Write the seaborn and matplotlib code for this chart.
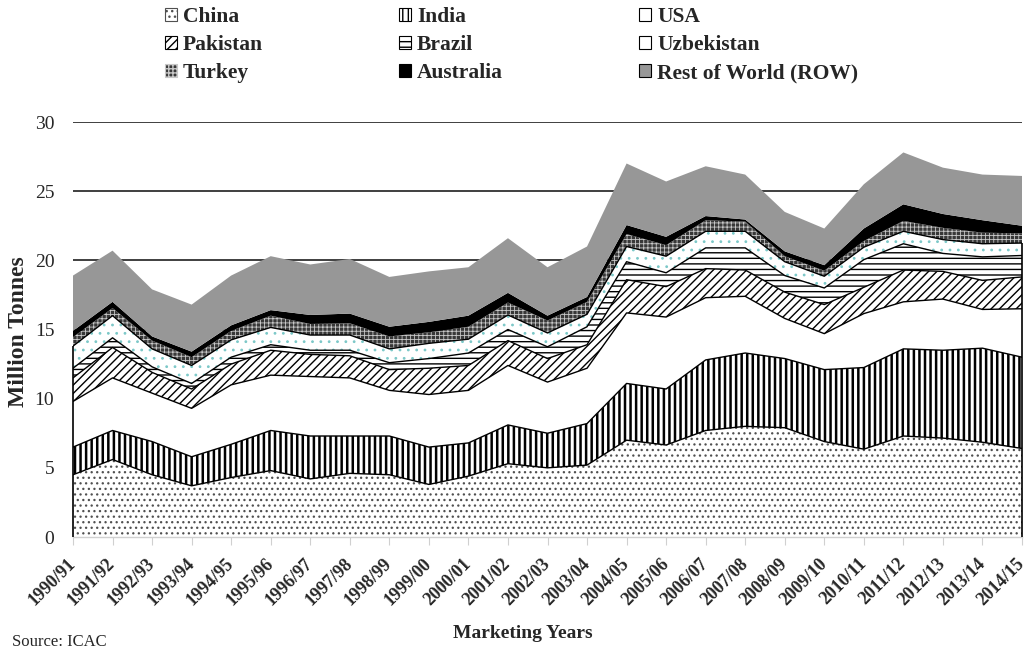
import matplotlib
matplotlib.use("Agg")
import matplotlib.pyplot as plt
import matplotlib.transforms as mtransforms
from matplotlib.patches import Patch
import numpy as np
import seaborn as sns

# ICAC cotton production, million tonnes
years = ['1990/91', '1991/92', '1992/93', '1993/94', '1994/95', '1995/96', '1996/97',
         '1997/98', '1998/99', '1999/00', '2000/01', '2001/02', '2002/03', '2003/04',
         '2004/05', '2005/06', '2006/07', '2007/08', '2008/09', '2009/10', '2010/11',
         '2011/12', '2012/13', '2013/14', '2014/15']
china = [4.5, 5.6, 4.5, 3.7, 4.3, 4.8, 4.2, 4.6, 4.5, 3.8, 4.4, 5.3, 5.0, 5.2, 7.0,
         6.65, 7.7, 8.0, 7.9, 6.9, 6.35, 7.3, 7.15, 6.85, 6.4]
india = [2.0, 2.1, 2.4, 2.1, 2.4, 2.9, 3.1, 2.7, 2.8, 2.7, 2.4, 2.8, 2.5, 3.0, 4.1,
         4.05, 5.1, 5.3, 5.0, 5.2, 5.9, 6.3, 6.35, 6.8, 6.6]
usa = [3.3, 3.8, 3.5, 3.5, 4.3, 4.0, 4.3, 4.2, 3.3, 3.8, 3.8, 4.3, 3.7, 4.0, 5.1,
       5.2, 4.5, 4.1, 2.9, 2.6, 3.9, 3.4, 3.7, 2.8, 3.5]
pakistan = [1.7, 2.2, 1.5, 1.4, 1.5, 1.8, 1.6, 1.6, 1.5, 1.9, 1.8, 1.8, 1.7, 1.7, 2.4,
            2.2, 2.1, 1.9, 1.9, 2.1, 1.9, 2.3, 2.0, 2.1, 2.3]
brazil = [0.7, 0.7, 0.4, 0.4, 0.5, 0.4, 0.3, 0.4, 0.5, 0.7, 0.9, 0.8, 0.85, 1.3, 1.3,
          1.0, 1.5, 1.6, 1.2, 1.2, 2.0, 1.9, 1.3, 1.7, 1.55]
uzbekistan = [1.6, 1.6, 1.3, 1.3, 1.25, 1.25, 1.1, 1.1, 1.0, 1.1, 1.0, 1.05, 1.0, 0.9, 1.1,
              1.2, 1.2, 1.2, 1.0, 0.85, 0.9, 0.9, 1.0, 0.95, 0.9]
turkey = [0.65, 0.55, 0.6, 0.6, 0.65, 0.85, 0.8, 0.85, 0.9, 0.8, 0.9, 0.9, 0.9, 0.9, 0.9,
          0.8, 0.8, 0.7, 0.4, 0.4, 0.45, 0.75, 0.85, 0.8, 0.7]
australia = [0.45, 0.45, 0.3, 0.4, 0.4, 0.4, 0.65, 0.7, 0.7, 0.75, 0.8, 0.7, 0.35, 0.35, 0.65,
             0.6, 0.3, 0.15, 0.35, 0.4, 0.9, 1.2, 1.0, 0.9, 0.55]
rest_of_world = [4.0, 3.7, 3.4, 3.4, 3.6, 3.9, 3.65, 3.95, 3.6, 3.65, 3.5, 3.95, 3.5, 3.65, 4.45,
                 4.0, 3.6, 3.25, 2.85, 2.65, 3.2, 3.75, 3.35, 3.3, 3.6]

names = ['China', 'India', 'USA', 'Pakistan', 'Brazil', 'Uzbekistan', 'Turkey',
         'Australia', 'Rest of World (ROW)']
values = [china, india, usa, pakistan, brazil, uzbekistan, turkey, australia, rest_of_world]

# facecolor, hatch, hatch colour, hatch width
styles = [
    ('white', '...', '#505050', 0.9),
    ('white', '|||', 'black', 1.8),
    ('white', '', 'none', 1.0),
    ('white', '////', 'black', 1.0),
    ('white', '---', 'black', 1.0),
    ('white', '..', '#7cc8c8', 0.8),
    ('#383838', '++++', '#c8c8c8', 0.6),
    ('black', '', 'none', 1.0),
    ('#979797', '', 'none', 1.0),
]

sns.set_style('white')
plt.rcParams['font.family'] = ['Liberation Serif', 'DejaVu Serif']
plt.rcParams['hatch.linewidth'] = 1.0

fig = plt.figure(figsize=(10.3, 6.49), dpi=100)
ax = fig.add_axes([73 / 1030, 1 - 537 / 649, (1022 - 73) / 1030, (537 - 122) / 649])

x = np.arange(len(years))
polys = ax.stackplot(x, *values, colors=[s[0] for s in styles], linewidth=0)
for poly, (face, hatch, hcol, hlw) in zip(polys, styles):
    poly.set_edgecolor(hcol)
    poly.set_linewidth(0)
    if hatch:
        poly.set_hatch(hatch)
        if hasattr(poly, 'set_hatch_linewidth'):
            poly.set_hatch_linewidth(hlw)

# black outlines around the lower six layers
cum = np.cumsum(np.array(values[:6]), axis=0)
for k in range(6):
    sns.lineplot(x=x, y=cum[k], ax=ax, color='black', linewidth=1.0, legend=False)
ax.vlines([0, len(years) - 1], 0, [cum[5][0], cum[5][-1]], color='black',
          linewidth=1.2, clip_on=False, zorder=3)

ax.set_xlim(0, len(years) - 1)
ax.set_ylim(0, 30)
ax.set_yticks(range(0, 31, 5))
ax.yaxis.grid(True, color='#303030', linewidth=1.3)
ax.xaxis.grid(False)
ax.set_axisbelow(True)
for side in ['left', 'right', 'top']:
    ax.spines[side].set_visible(False)
ax.spines['bottom'].set_color('#d0d0d0')
ax.spines['bottom'].set_linewidth(1.0)

ax.set_xticks(x)
ax.set_xticklabels([])
ax.tick_params(axis='x', bottom=True, length=6, color='#d0d0d0')
ax.tick_params(axis='y', left=False, labelsize=14, pad=10)
ax.set_ylabel('')
ax.set_xlabel('')

# rotated year labels, placed by hand so the last one stays inside the figure
offset = mtransforms.ScaledTranslation(0, -24 / 100, fig.dpi_scale_trans)
for i, year in enumerate(years):
    ax.text(i, 0, year, transform=ax.get_xaxis_transform() + offset, rotation=45,
            ha='right', va='center', rotation_mode='anchor', fontsize=13,
            fontweight='bold', clip_on=False)

fig.text(19 / 1030, 1 - 332 / 649, 'Million Tonnes', rotation=90, ha='center',
         va='center', fontsize=17, fontweight='bold')
fig.text(523 / 1030, 1 - 634 / 649, 'Marketing Years', ha='center', va='center',
         fontsize=14, fontweight='bold')
fig.text(12 / 1030, 1 - 634 / 649, 'Source: ICAC', ha='left', va='top', fontsize=12)

handles = []
for (face, hatch, hcol, hlw), name in zip(styles, names):
    if name == 'Uzbekistan' or not hatch:
        handles.append(Patch(facecolor=face, edgecolor='black', linewidth=0.8, label=name))
    else:
        handles.append(Patch(facecolor=face, edgecolor=hcol, hatch=hatch,
                             linewidth=0.8, label=name))
# matplotlib fills legend columns first, the reference reads row by row
order = [0, 3, 6, 1, 4, 7, 2, 5, 8]
leg = fig.legend([handles[i] for i in order], [names[i] for i in order],
                 loc='upper left', bbox_to_anchor=(154 / 1030, 1 + 4 / 649), ncol=3,
                 frameon=False, borderpad=0, handlelength=0.55, handleheight=0.55,
                 handletextpad=0.3, columnspacing=6.3, labelspacing=0.38,
                 prop={'family': 'Liberation Serif', 'weight': 'bold', 'size': 15.5})

fig.savefig('out.png', dpi=100)
